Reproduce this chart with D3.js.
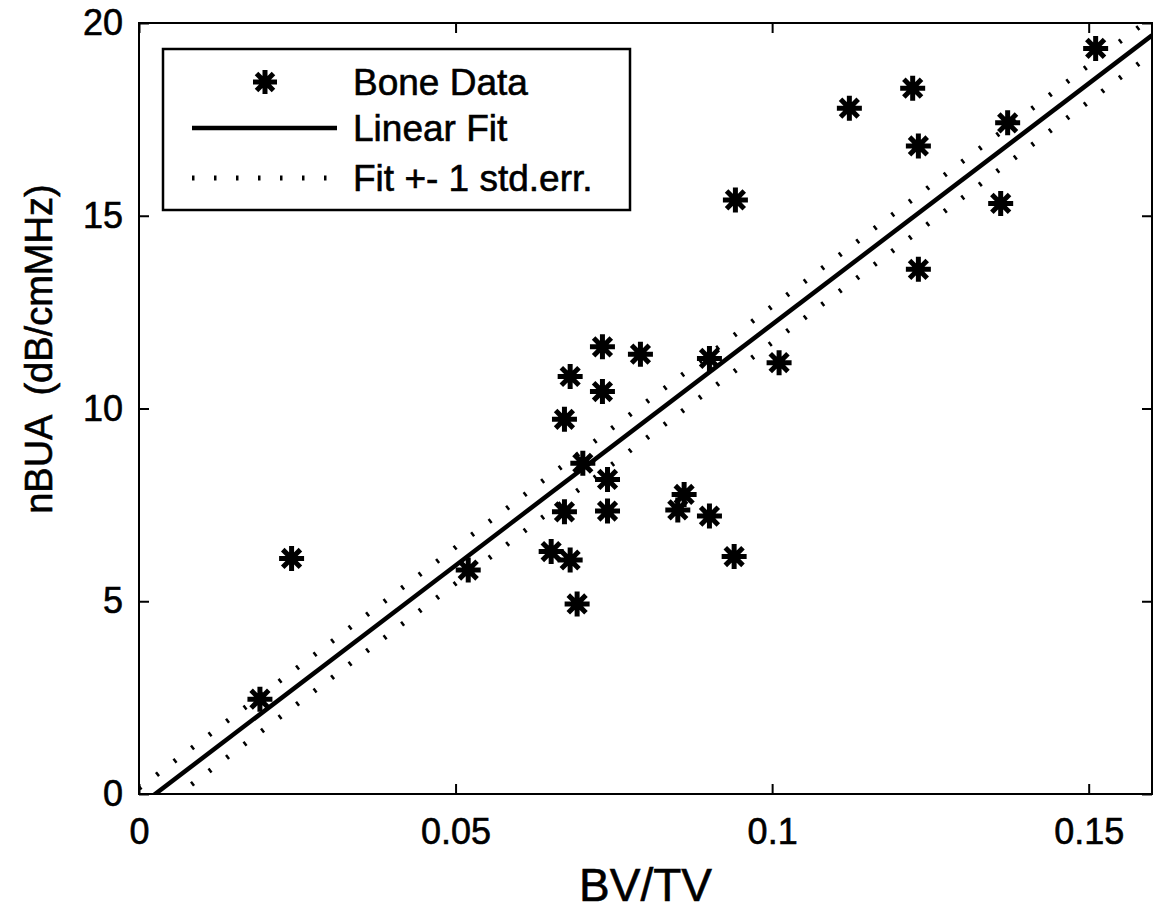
<!DOCTYPE html>
<html>
<head>
<meta charset="utf-8">
<script src="https://cdn.jsdelivr.net/npm/d3@7"></script>
<style>
  body { margin: 0; background: #fff; }
  text { font-family: Arial, "Liberation Sans", Helvetica, sans-serif; fill: #000; stroke: #000; stroke-width: 0.6px; white-space: pre; }
</style>
</head>
<body>
<div id="chart"></div>
<script>
// ---- data ----
const bvtv = [0.0191, 0.0241, 0.0520, 0.0651, 0.0672, 0.0681, 0.0692, 0.0672, 0.0681, 0.0701,
  0.0732, 0.0732, 0.0740, 0.0740, 0.0792, 0.0851, 0.0861, 0.0901, 0.0901, 0.0940,
  0.0942, 0.1011, 0.1122, 0.1222, 0.1231, 0.1231, 0.1361, 0.1372, 0.1511];
const nbua = [2.46, 6.11, 5.81, 6.29, 7.32, 6.07, 4.93, 9.72, 10.83, 8.58,
  11.60, 10.44, 8.16, 7.34, 11.41, 7.37, 7.77, 7.21, 11.30, 6.16,
  15.41, 11.19, 17.79, 18.31, 16.81, 13.61, 15.32, 17.41, 19.34];

// linear fit and +- 1 std. err. band
const fitSlope = 125;
const fitIntercept = -0.32;
const fitStdErr = 0.47;

const xTicks = [0, 0.05, 0.1, 0.15];
const yTicks = [0, 5, 10, 15, 20];
const legendLabels = ['Bone Data', 'Linear Fit', 'Fit +- 1 std.err.'];

// ---- layout ----
const config = {
  width: 1155,
  height: 910,
  margin: {top: 23, right: 3, bottom: 116, left: 139},
  tickSize: 10
};
const width = config.width - config.margin.left - config.margin.right;
const height = config.height - config.margin.top - config.margin.bottom;

const xScale = d3.scaleLinear().domain([0, 0.16]).range([0, width]);
const yScale = d3.scaleLinear().domain([0, 20]).range([height, 0]);

const svg = d3.select('#chart').append('svg')
  .attr('width', config.width)
  .attr('height', config.height);

const chart = svg.append('g')
  .attr('transform', `translate(${config.margin.left},${config.margin.top})`);

chart.append('defs').append('clipPath')
    .attr('id', 'plot-clip')
  .append('rect')
    .attr('width', width)
    .attr('height', height);

const plot = chart.append('g').attr('clip-path', 'url(#plot-clip)');

// fit lines span the whole x domain, clipped to the axes box
const fitLine = offset => d3.line()
  .x(d => xScale(d))
  .y(d => yScale(fitSlope * d + fitIntercept + offset))(xScale.domain());

[fitStdErr, -fitStdErr].forEach(off => {
  plot.append('path')
    .attr('d', fitLine(off))
    .attr('fill', 'none')
    .attr('stroke', '#000')
    .attr('stroke-width', 5)
    .attr('stroke-dasharray', '2.5,19.5');
});

plot.append('path')
  .attr('d', fitLine(0))
  .attr('fill', 'none')
  .attr('stroke', '#000')
  .attr('stroke-width', 4.5);

// matlab-style asterisk marker
const starPath = r => {
  const d = r * Math.SQRT1_2;
  return `M${-r},0L${r},0M0,${-r}L0,${r}M${-d},${-d}L${d},${d}M${-d},${d}L${d},${-d}`;
};

plot.selectAll('.mark')
  .data(d3.zip(bvtv, nbua))
  .join('path')
    .attr('class', 'mark')
    .attr('transform', d => `translate(${xScale(d[0])},${yScale(d[1])})`)
    .attr('d', starPath(12.5))
    .attr('stroke', '#000')
    .attr('stroke-width', 5);

// ---- axes: ticks inside on all four sides ----
const axisStyle = g => {
  g.select('.domain').remove();
  g.selectAll('line').attr('stroke', '#000').attr('stroke-width', 2);
  g.selectAll('text').attr('font-size', 36).style('font-family', 'Arial, "Liberation Sans", sans-serif');
};

chart.append('g')
  .attr('transform', `translate(0,${height})`)
  .call(d3.axisBottom(xScale).tickValues(xTicks).tickFormat(d3.format('~g'))
    .tickSize(-config.tickSize).tickPadding(24))
  .call(axisStyle);

chart.append('g')
  .call(d3.axisTop(xScale).tickValues(xTicks).tickSize(-config.tickSize).tickFormat(''))
  .call(axisStyle);

chart.append('g')
  .call(d3.axisLeft(yScale).tickValues(yTicks).tickSize(-config.tickSize).tickPadding(16))
  .call(axisStyle);

chart.append('g')
  .attr('transform', `translate(${width},0)`)
  .call(d3.axisRight(yScale).tickValues(yTicks).tickSize(-config.tickSize).tickFormat(''))
  .call(axisStyle);

// axes box
chart.append('rect')
  .attr('width', width)
  .attr('height', height)
  .attr('fill', 'none')
  .attr('stroke', '#000')
  .attr('stroke-width', 2);

// axis labels
svg.append('text')
  .attr('x', config.margin.left + width / 2)
  .attr('y', 901)
  .attr('text-anchor', 'middle')
  .attr('font-size', 46)
  .text('BV/TV');

svg.append('text')
  .attr('transform', `translate(52,${config.margin.top + yScale(11.54)}) rotate(-90)`)
  .attr('text-anchor', 'middle')
  .attr('font-size', 38)
  .text('nBUA  (dB/cmMHz)');

// ---- legend ----
const legend = svg.append('g').attr('transform', 'translate(163,49)');

legend.append('rect')
  .attr('width', 467)
  .attr('height', 161)
  .attr('fill', '#fff')
  .attr('stroke', '#000')
  .attr('stroke-width', 2.5);

const rowY = [33, 79, 129];

legend.append('path')
  .attr('transform', `translate(102,${rowY[0]})`)
  .attr('d', starPath(12))
  .attr('stroke', '#000')
  .attr('stroke-width', 5);

legend.append('line')
  .attr('x1', 29).attr('x2', 174)
  .attr('y1', rowY[1]).attr('y2', rowY[1])
  .attr('stroke', '#000')
  .attr('stroke-width', 4.5);

legend.append('line')
  .attr('x1', 29).attr('x2', 180)
  .attr('y1', rowY[2]).attr('y2', rowY[2])
  .attr('stroke', '#000')
  .attr('stroke-width', 5)
  .attr('stroke-dasharray', '2.5,19.5');

legend.selectAll('.legend-label')
  .data(legendLabels)
  .join('text')
    .attr('class', 'legend-label')
    .attr('x', 190)
    .attr('y', (d, i) => rowY[i] + 13)
    .attr('font-size', 37)
    .text(d => d);
</script>
</body>
</html>
